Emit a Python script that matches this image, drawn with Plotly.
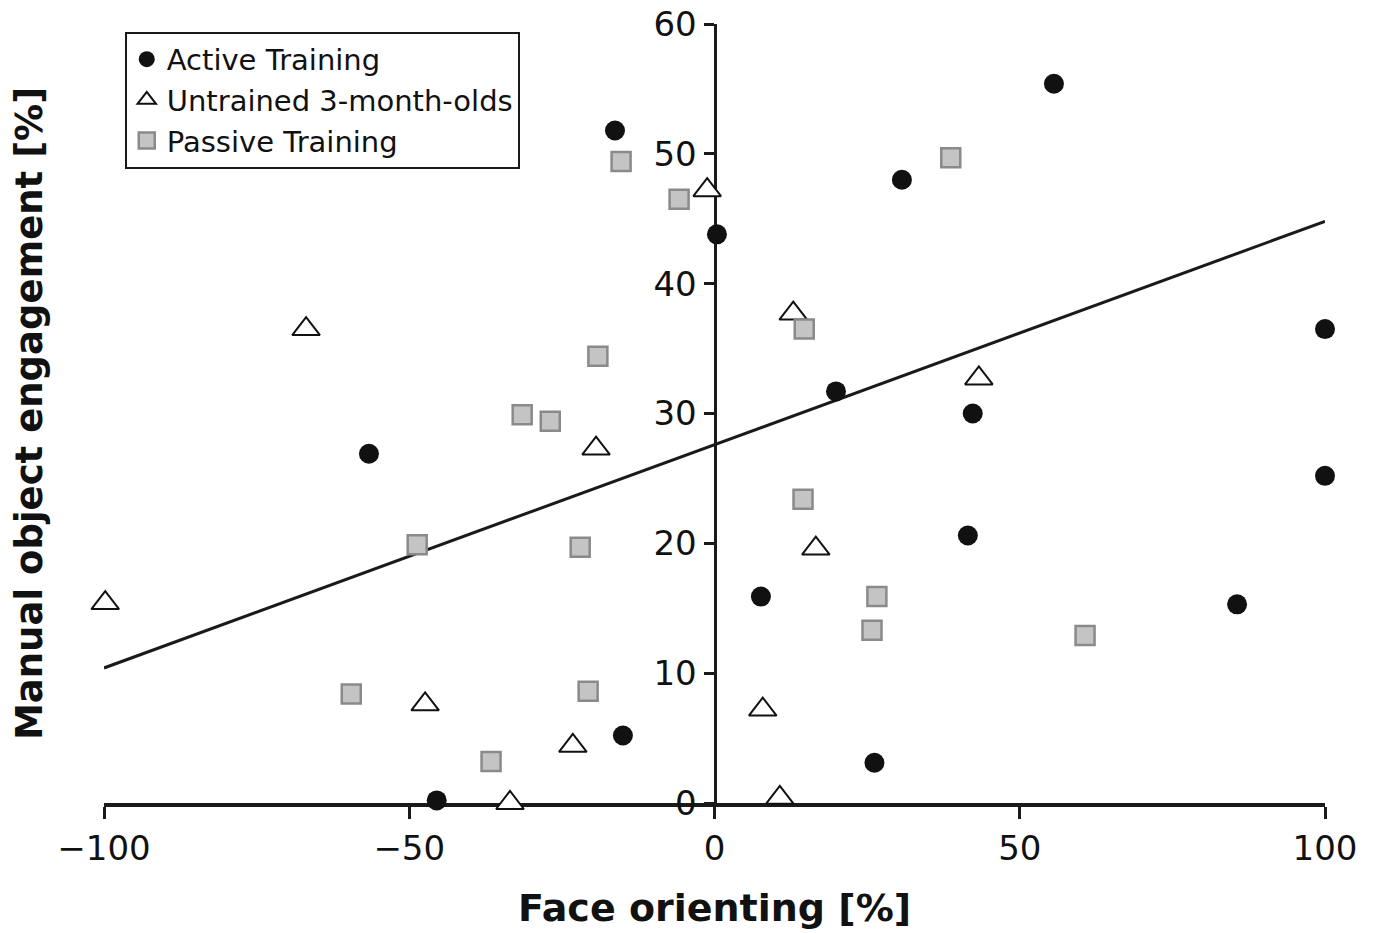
import plotly.graph_objects as go

# Active Training (black circles)
active_x = [-16.3, 0.4, 30.7, 55.6, 100.0, 100.0, 19.9, 42.3, 41.5, 7.6, 85.6, 26.2, -15.0, -45.5, -56.6]
active_y = [51.8, 43.8, 48.0, 55.4, 36.5, 25.2, 31.7, 30.0, 20.6, 15.9, 15.3, 3.1, 5.2, 0.2, 26.9]

# Untrained 3-month-olds (open triangles)
untrained_x = [-99.8, -66.9, -19.4, -47.4, -23.2, -33.5, -1.2, 12.9, 43.3, 16.6, 7.9, 10.7]
untrained_y = [15.4, 36.5, 27.3, 7.6, 4.4, 0.0, 47.2, 37.7, 32.7, 19.6, 7.2, 0.4]

# Passive Training (gray squares)
passive_x = [-15.3, -5.8, 38.7, 14.7, -19.1, -31.5, -26.9, -48.7, -22.0, 14.5, 26.6, 25.8, 60.7, -59.5, -20.7, -36.6]
passive_y = [49.4, 46.5, 49.7, 36.5, 34.4, 29.9, 29.4, 19.9, 19.7, 23.4, 15.9, 13.3, 12.9, 8.4, 8.6, 3.2]

# Regression line
fit_x = [-100, 100]
fit_slope = 0.172
fit_intercept = 27.6
fit_y = [fit_intercept + fit_slope * v for v in fit_x]

x_ticks = [-100, -50, 0, 50, 100]
x_ticktext = ["\u2212100", "\u221250", "0", "50", "100"]
y_ticks = [0, 10, 20, 30, 40, 50, 60]

FONT = "DejaVu Sans"

fig = go.Figure()

fig.add_trace(go.Scatter(
    x=fit_x, y=fit_y, mode="lines", showlegend=False,
    line=dict(color="#1a1a1a", width=3), cliponaxis=False, hoverinfo="skip"))

fig.add_trace(go.Scatter(
    x=active_x, y=active_y, mode="markers", name="Active Training",
    marker=dict(symbol="circle", size=20, color="#111111",
                line=dict(color="#111111", width=0)),
    cliponaxis=False))

fig.add_trace(go.Scatter(
    x=untrained_x, y=untrained_y, mode="markers", name="Untrained 3-month-olds",
    marker=dict(symbol="triangle-up", size=24, color="white",
                line=dict(color="#111111", width=2)),
    cliponaxis=False))

fig.add_trace(go.Scatter(
    x=passive_x, y=passive_y, mode="markers", name="Passive Training",
    marker=dict(symbol="square", size=19, color="#c4c4c4",
                line=dict(color="#8a8a8a", width=2.5)),
    cliponaxis=False))

fig.update_layout(
    width=1376, height=933,
    margin=dict(l=104, r=51, t=24, b=130, autoexpand=False),
    paper_bgcolor="white", plot_bgcolor="white",
    font=dict(family=FONT, color="#111111", size=30),
    xaxis=dict(
        range=[-100, 100], tickvals=x_ticks, ticktext=x_ticktext,
        showgrid=False, zeroline=False, showline=True,
        linecolor="#1a1a1a", linewidth=4,
        ticks="outside", ticklen=12, tickwidth=3, tickcolor="#1a1a1a",
        tickfont=dict(size=34, family=FONT, color="#111111"),
        layer="below traces", automargin=False, ticklabeloverflow="allow",
    ),
    yaxis=dict(
        range=[0, 60], tickvals=y_ticks,
        showgrid=False, zeroline=False, showline=True,
        linecolor="#1a1a1a", linewidth=3,
        anchor="free", position=0.5,
        ticks="outside", ticklen=10, tickwidth=3, tickcolor="#1a1a1a",
        tickfont=dict(size=34, family=FONT, color="#111111"),
        layer="below traces", automargin=False, ticklabeloverflow="allow",
    ),
    legend=dict(
        x=0.017, y=0.99, xanchor="left", yanchor="top",
        bgcolor="white", bordercolor="#1a1a1a", borderwidth=2,
        font=dict(size=29, family=FONT, color="#111111"),
        itemsizing="trace", tracegroupgap=0,
    ),
    annotations=[
        dict(text="<b>Face orienting [%]</b>", xref="paper", yref="paper",
             x=0.5, y=-0.135, xanchor="center", yanchor="middle",
             showarrow=False, font=dict(size=38, family=FONT, color="#111111")),
        dict(text="<b>Manual object engagement [%]</b>", xref="paper", yref="paper",
             x=-0.061, y=0.5, xanchor="center", yanchor="middle", textangle=-90,
             showarrow=False, font=dict(size=37, family=FONT, color="#111111")),
    ],
)

fig.write_html("out.html",
               config={"displayModeBar": False},
               post_script="document.body.style.margin='0';document.body.style.overflow='hidden';")
